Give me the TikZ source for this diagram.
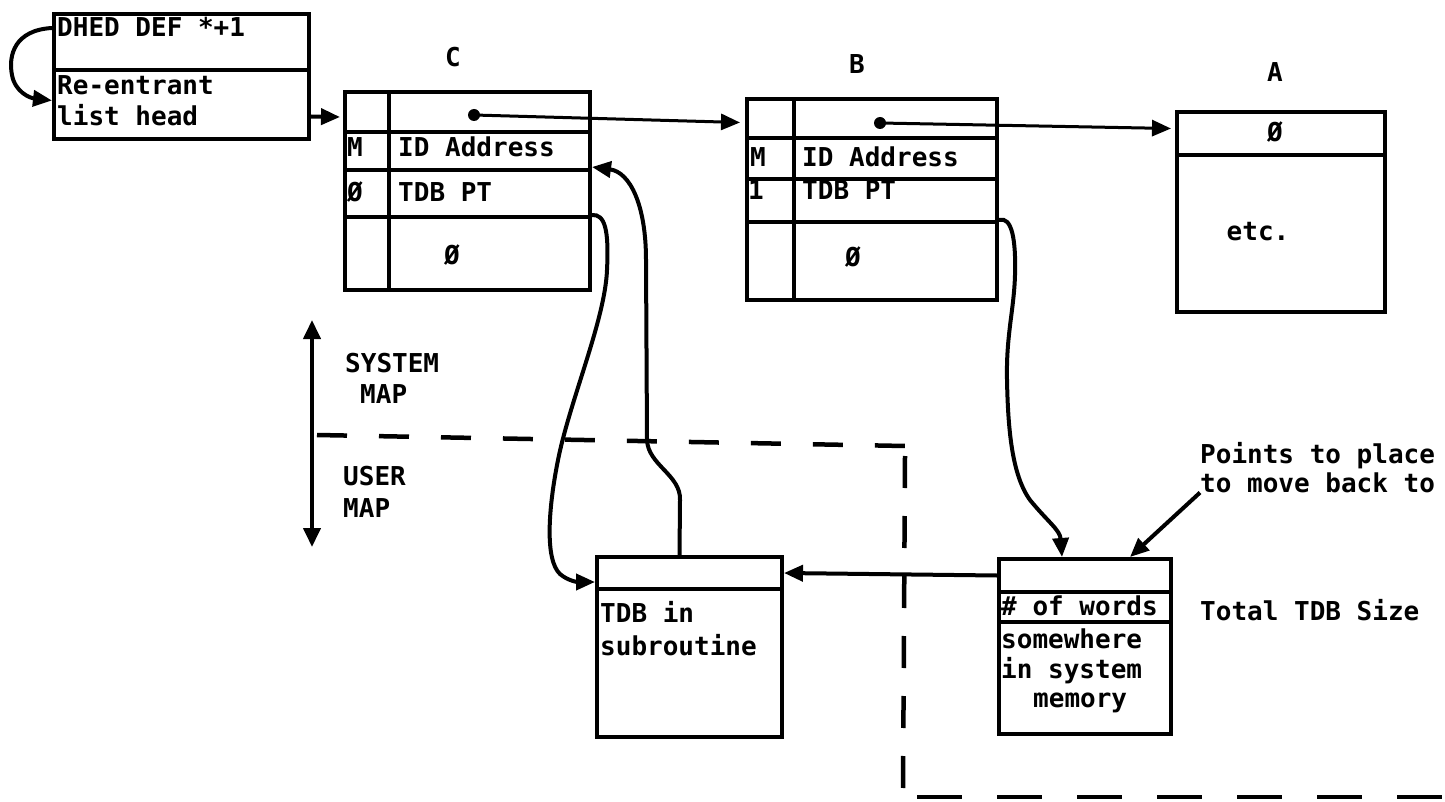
\documentclass[tikz,border=0pt]{standalone}
\usepackage{fontspec}
\setmonofont{DejaVu Sans Mono}
\usetikzlibrary{arrows.meta}
\tikzset{
  cell/.style={draw, line width=4pt, inner sep=0pt, anchor=north west},
  txt/.style={font=\ttfamily\bfseries\fontsize{26}{31}\selectfont, inner sep=0pt, anchor=base west},
  txtc/.style={font=\ttfamily\bfseries\fontsize{26}{31}\selectfont, inner sep=0pt},
  conn/.style={line width=4pt, -{Triangle[length=19pt,width=16pt]}},
  thinconn/.style={line width=3pt, -{Triangle[length=19pt,width=16pt]}},
  dotnode/.style={circle, fill, inner sep=0pt, minimum size=12pt},
  boundary/.style={line width=4.5pt}
}
\begin{document}
\begin{tikzpicture}[x=1pt,y=-1pt]
\useasboundingbox (0,0) rectangle (1445,802);

% ---------- DHED box
\node[cell, minimum width=255pt, minimum height=56pt] (dh0) at (52,12) {};
\node[cell, minimum width=255pt, minimum height=69pt] (dh1) at (52,68) {};
\node[txt] (dhA) at (57,37) {DHED DEF *+1};
\node[txt] (dhB) at (57,95) {Re-entrant};
\node[txt] (dhC) at (57,126) {list head};

% ---------- C box
\node[cell, minimum width=44pt, minimum height=40pt] (c0L) at (343,90) {};
\node[cell, minimum width=201pt, minimum height=40pt] (c0R) at (387,90) {};
\node[cell, minimum width=44pt, minimum height=38pt] (c1L) at (343,130) {};
\node[cell, minimum width=201pt, minimum height=38pt] (c1R) at (387,130) {};
\node[cell, minimum width=44pt, minimum height=47pt] (c2L) at (343,168) {};
\node[cell, minimum width=201pt, minimum height=47pt] (c2R) at (387,168) {};
\node[cell, minimum width=44pt, minimum height=73pt] (c3L) at (343,215) {};
\node[cell, minimum width=201pt, minimum height=73pt] (c3R) at (387,215) {};
\node[txtc, anchor=base] (labC) at (453,67) {C};
\node[txt] (cM) at (347,157) {M};
\node[txt] (cID) at (398,157) {ID Address};
\node[txt] (cZ) at (347,202) {Ø};
\node[txt] (cT) at (398,202) {TDB PT};
\node[txtc] (cZ2) at (452,255) {Ø};
\node[dotnode] (cdot) at (474,115) {};

% ---------- B box
\node[cell, minimum width=47pt, minimum height=39pt] (b0L) at (745,97) {};
\node[cell, minimum width=203pt, minimum height=39pt] (b0R) at (792,97) {};
\node[cell, minimum width=47pt, minimum height=41pt] (b1L) at (745,136) {};
\node[cell, minimum width=203pt, minimum height=41pt] (b1R) at (792,136) {};
\node[cell, minimum width=47pt, minimum height=43pt] (b2L) at (745,177) {};
\node[cell, minimum width=203pt, minimum height=43pt] (b2R) at (792,177) {};
\node[cell, minimum width=47pt, minimum height=78pt] (b3L) at (745,220) {};
\node[cell, minimum width=203pt, minimum height=78pt] (b3R) at (792,220) {};
\node[txtc, anchor=base] (labB) at (857,74) {B};
\node[txt] (bM) at (750,167) {M};
\node[txt] (bID) at (802,167) {ID Address};
\node[txt] (b1) at (748,200) {1};
\node[txt] (bT) at (802,200) {TDB PT};
\node[txtc] (bZ) at (853,257) {Ø};
\node[dotnode] (bdot) at (880,123) {};

% ---------- A box
\node[cell, minimum width=208pt, minimum height=43pt] (a0) at (1175,110) {};
\node[cell, minimum width=208pt, minimum height=157pt] (a1) at (1175,153) {};
\node[txtc, anchor=base] (labA) at (1275,82) {A};
\node[txtc] (aZ) at (1275,132) {Ø};
\node[txtc] (aEtc) at (1258,232) {etc.};

% ---------- TDB in subroutine box
\node[cell, minimum width=185pt, minimum height=32pt] (s0) at (595,555) {};
\node[cell, minimum width=185pt, minimum height=148pt] (s1) at (595,587) {};
\node[txt] (sA) at (600,622) {TDB in};
\node[txt] (sB) at (600,655) {subroutine};

% ---------- system memory box
\node[cell, minimum width=172pt, minimum height=33pt] (m0) at (997,557) {};
\node[cell, minimum width=172pt, minimum height=30pt] (m1) at (997,590) {};
\node[cell, minimum width=172pt, minimum height=112pt] (m2) at (997,620) {};
\node[txt] (mA) at (1001,615) {\# of words};
\node[txt] (mB) at (1001,648) {somewhere};
\node[txt] (mC) at (1001,678) {in system};
\node[txt] (mD) at (1033,707) {memory};
\node[txt] (tot) at (1200,620) {Total TDB Size};
\node[txt] (ptA) at (1200,463) {Points to place};
\node[txt] (ptB) at (1200,492) {to move back to};

% ---------- map labels
\node[txt] (sys1) at (345,372) {SYSTEM};
\node[txt] (sys2) at (360,403) {MAP};
\node[txt] (usr1) at (343,485) {USER};
\node[txt] (usr2) at (343,517) {MAP};
\coordinate (mapTop) at (312,320);
\coordinate (mapBot) at (312,547);
\draw[line width=4pt, {Triangle[length=19pt,width=17pt]}-{Triangle[length=19pt,width=17pt]}] (mapTop) -- (mapBot);

% ---------- boundary (dashed)
\draw[boundary, dash pattern=on 30pt off 32pt] (317,435) -- (905,446);
\draw[boundary, dash pattern=on 32pt off 28pt] (905,456) -- (903,792);
\draw[boundary, dash pattern=on 45pt off 35pt] (917,797) -- (1445,797);

% ---------- connectors
\draw[conn] ([yshift=-16pt]dh0.north west) .. controls (15,30) and (8,55) .. (12,75)
  .. controls (15,92) and (30,98) .. ([yshift=4pt]dh1.west);
\draw[conn] ([yshift=-12pt]dh1.east) -- ([xshift=-3pt,yshift=-5pt]c0L.west);
\draw[thinconn] (cdot.center) -- ([xshift=-5pt,yshift=-4pt]b0L.west);
\draw[thinconn] (bdot.center) -- ([xshift=-4pt,yshift=5pt]a0.west);
\draw[conn] (c3R.north east) .. controls (605,214) and (609,230) .. (607,270)
  .. controls (605,320) and (570,400) .. (558,460)
  .. controls (548,510) and (545,560) .. (560,574)
  .. controls (568,581) and (578,582) .. ([yshift=5pt]s1.north west);
\draw[conn] ([xshift=-10pt]s0.north) -- (680,500) .. controls (681,475) and (648,465) .. (647,440)
  -- (646,260) .. controls (646,205) and (630,172) .. ([yshift=5pt]c1R.south east);
\draw[conn] (b3R.north east) .. controls (1012,216) and (1016,240) .. (1015,275)
  .. controls (1014,310) and (1006,335) .. (1007,380)
  .. controls (1008,430) and (1012,475) .. (1030,500)
  .. controls (1048,522) and (1060,530) .. ([xshift=-23pt]m0.north);
\draw[conn] (m0.west) -- (s0.east);
\draw[conn] (ptB.south west) -- ([xshift=45pt]m0.north);
\end{tikzpicture}
\end{document}
